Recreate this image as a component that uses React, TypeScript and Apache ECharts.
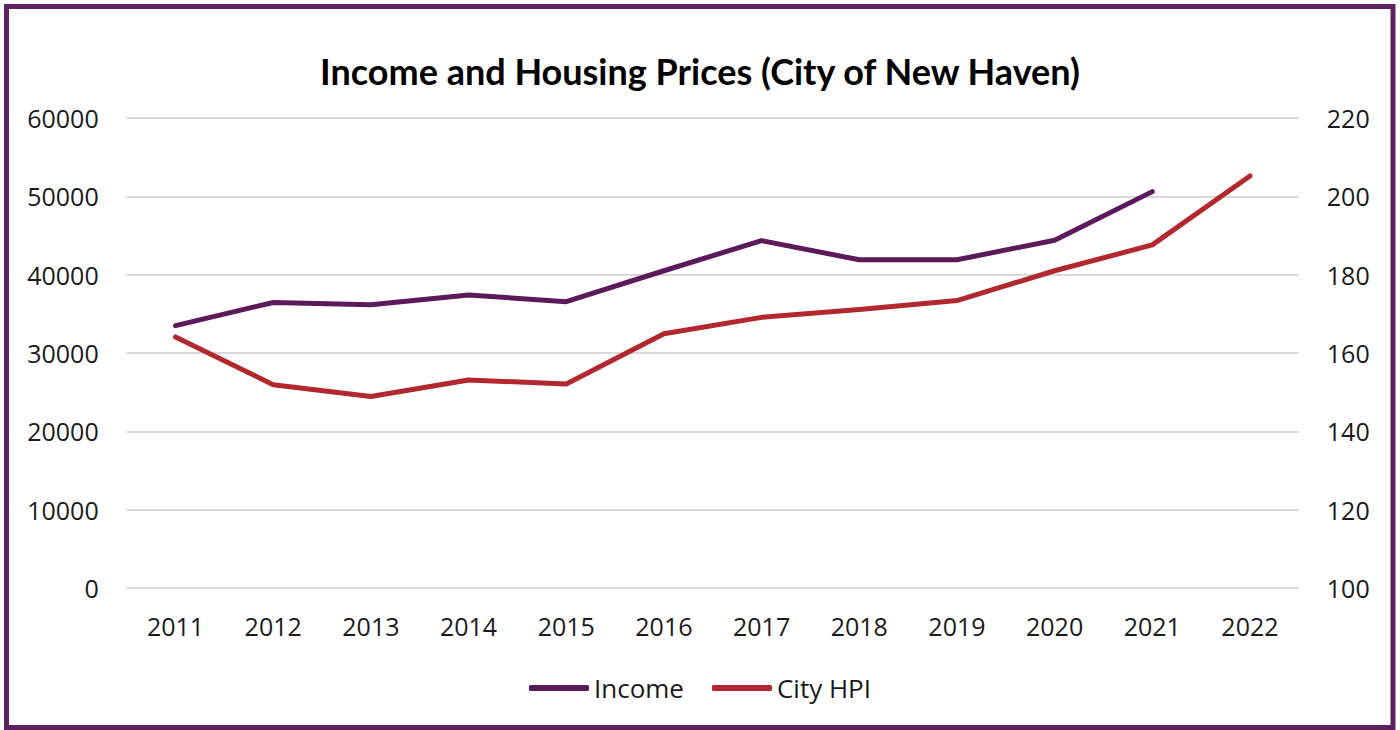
import React, { useEffect, useRef } from "react";
import * as echarts from "echarts";

const years = ["2011", "2012", "2013", "2014", "2015", "2016", "2017", "2018", "2019", "2020", "2021", "2022"];
const income = [33500, 36450, 36150, 37400, 36550, 40500, 44350, 41900, 41900, 44400, 50600, null];
const cityHpi = [164.1, 151.9, 148.9, 153.1, 152.1, 164.9, 169.1, 171.1, 173.4, 181.0, 187.6, 205.2];
const title = "Income and Housing Prices (City of New Haven)";

export default function App() {
  const ref = useRef<HTMLDivElement>(null);
  useEffect(() => {
    document.body.style.margin = "0";
    const chart = echarts.init(ref.current!, null, { renderer: "svg" });
    const axisLabel = {
      color: "#1a1a1a",
      fontSize: 25,
      fontFamily: "Open Sans",
      margin: 28,
      formatter: (v: number) => String(v),
    };
    chart.setOption({
      animation: false,
      backgroundColor: "#ffffff",
      title: {
        text: title,
        left: "center",
        top: 48,
        textStyle: { fontSize: 36, fontWeight: "bold", fontFamily: "Lato", color: "#000" },
      },
      grid: { left: 126.7, right: 101.2, top: 118, bottom: 142, containLabel: false },
      legend: {
        top: 670,
        left: "center",
        itemWidth: 60,
        itemHeight: 6,
        itemGap: 28,
        icon: "roundRect",
        textStyle: { fontSize: 26, fontFamily: "Open Sans", color: "#1a1a1a" },
        data: ["Income", "City HPI"],
      },
      xAxis: {
        type: "category",
        data: years,
        boundaryGap: true,
        axisLine: { show: false },
        axisTick: { show: false },
        axisLabel: { ...axisLabel, margin: 25, formatter: undefined },
      },
      yAxis: [
        {
          type: "value",
          min: 0,
          max: 60000,
          interval: 10000,
          axisLine: { show: false },
          axisTick: { show: false },
          axisLabel,
          splitLine: { lineStyle: { color: "#d9d9d9", width: 2 } },
        },
        {
          type: "value",
          min: 100,
          max: 220,
          interval: 20,
          position: "right",
          axisLine: { show: false },
          axisTick: { show: false },
          axisLabel,
          splitLine: { show: false },
        },
      ],
      series: [
        {
          name: "Income",
          type: "line",
          yAxisIndex: 0,
          data: income,
          symbol: "none",
          color: "#5c1a5b",
          lineStyle: { width: 5, color: "#5c1a5b", cap: "round", join: "round" },
        },
        {
          name: "City HPI",
          type: "line",
          yAxisIndex: 1,
          data: cityHpi,
          symbol: "none",
          color: "#b3282f",
          lineStyle: { width: 5, color: "#b3282f", cap: "round", join: "round" },
        },
      ],
      graphic: [
        {
          type: "rect",
          shape: { x: 6.5, y: 6.5, width: 1386.5, height: 721 },
          style: { fill: "none", stroke: "#5e2160", lineWidth: 5 },
          silent: true,
          z: 100,
        },
      ],
    });
    return () => chart.dispose();
  }, []);
  return <div ref={ref} style={{ width: 1400, height: 730 }} />;
}
